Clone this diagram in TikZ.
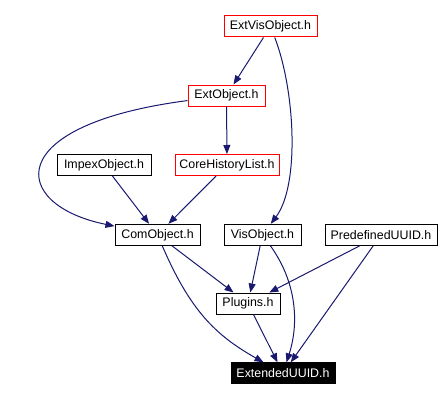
\documentclass[tikz,border=0pt]{standalone}
\usepackage{fontspec}
\setmainfont{Liberation Sans}
\usetikzlibrary{arrows.meta}
\definecolor{edgeblue}{HTML}{191970}
\begin{document}
\begin{tikzpicture}[x=1pt, y=1pt, >={Triangle[length=9pt,width=7pt]}]
\tikzstyle{every node}=[font=\fontsize{12.4}{14}\selectfont]
\tikzstyle{file}=[draw=black, line width=1pt, fill=white, text=black, inner sep=0pt, minimum height=21pt]
\tikzstyle{redfile}=[file, draw=red]
\tikzstyle{mainfile}=[file, fill=black, text=white]
\tikzstyle{dep}=[->, draw=edgeblue, fill=none, line width=1pt]
\useasboundingbox (0,0) rectangle (443,-401);
\node[redfile, minimum width=93pt]  (ExtVis)   at (270.5,-26.5) {ExtVisObject.h};
\node[redfile, minimum width=77pt]  (ExtObj)   at (226.5,-95.5) {ExtObject.h};
\node[file, minimum width=94pt]     (Impex)    at (104,-165)    {ImpexObject.h};
\node[redfile, minimum width=104pt] (CoreHist) at (227,-165)    {CoreHistoryList.h};
\node[file, minimum width=85pt]     (ComObj)   at (157.5,-234.8) {ComObject.h};
\node[file, minimum width=77pt]     (VisObj)   at (262.5,-234.8) {VisObject.h};
\node[file, minimum width=112pt]    (PreUUID)  at (381,-234.8)   {PredefinedUUID.h};
\node[file, minimum width=64pt]     (Plugins)  at (248,-303.5)   {Plugins.h};
\node[mainfile, minimum width=104pt] (ExtUUID) at (283,-373.3)   {ExtendedUUID.h};
\path
(ExtVis)   edge[dep] (ExtObj)
(ExtObj)   edge[dep] (CoreHist)
(Impex)    edge[dep] (ComObj)
(CoreHist) edge[dep] (ComObj)
(ComObj)   edge[dep] (Plugins)
(VisObj)   edge[dep] (Plugins)
(PreUUID)  edge[dep] (Plugins)
           edge[dep] (ExtUUID)
(Plugins)  edge[dep] (ExtUUID);
\draw[dep] (ExtVis) .. controls (295,-90) and (300,-185) .. (VisObj);
\draw[dep] (ExtObj) .. controls (0,-125) and (10,-205) .. (ComObj);
\draw[dep] (ComObj) .. controls (190,-310) and (215,-335) .. (ExtUUID);
\draw[dep] (VisObj) .. controls (295,-280) and (300,-320) .. (ExtUUID);
\end{tikzpicture}
\end{document}
